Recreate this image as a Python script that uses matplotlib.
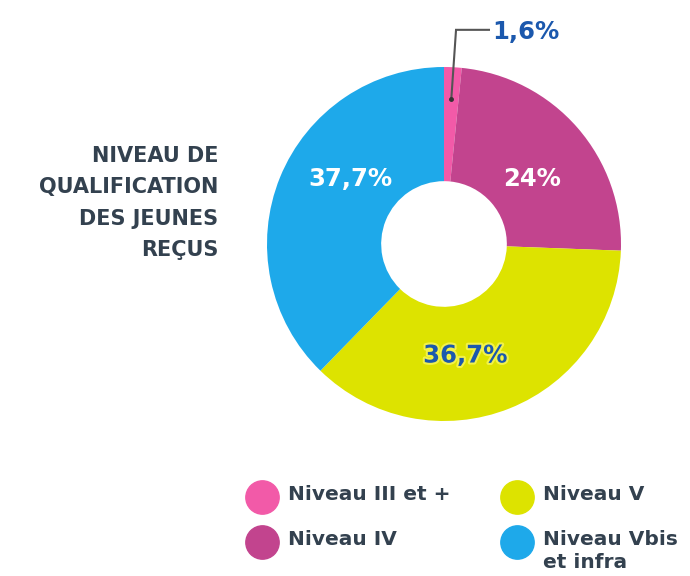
import numpy as np
import matplotlib.pyplot as plt
import matplotlib.patheffects as pe

# data
labels = ['Niveau III et +', 'Niveau IV', 'Niveau V', 'Niveau Vbis\net infra']
values = [1.6, 24, 36.7, 37.7]
pct_text = ['1,6%', '24%', '36,7%', '37,7%']
colors = ['#f25aa8', '#c2448e', '#dde300', '#1ea9ea']
title_lines = 'NIVEAU DE\nQUALIFICATION\nDES JEUNES\nREÇUS'

plt.rcParams['font.family'] = ['DejaVu Sans']
dark = '#33414f'
blue_txt = '#1b58ad'

fig = plt.figure(figsize=(6.9, 5.76), dpi=100)
fig.patch.set_facecolor('white')

# donut axes: centre (444,244) px, radius 177 px
ax = fig.add_axes([267 / 690, 1 - 421 / 576, 354 / 690, 354 / 576])
wedges, _ = ax.pie(values, colors=colors, startangle=90, counterclock=False,
                   radius=1, wedgeprops=dict(width=0.645, linewidth=0))
ax.set_xlim(-1, 1)
ax.set_ylim(-1, 1)
ax.set_aspect('equal')
ax.axis('off')

# percentage labels inside the ring
ax.text(-0.53, 0.37, pct_text[3], color='white', fontsize=17.5, fontweight='bold',
        ha='center', va='center')
ax.text(0.50, 0.37, pct_text[1], color='white', fontsize=17.5, fontweight='bold',
        ha='center', va='center')
ax.text(0.12, -0.63, pct_text[2], color=blue_txt, fontsize=17.5, fontweight='bold',
        ha='center', va='center',
        path_effects=[pe.withStroke(linewidth=3, foreground='#f2f24a')])

# leader line for the small slice
w = wedges[0]
mid = np.deg2rad((w.theta1 + w.theta2) / 2)
x0, y0 = 0.82 * np.cos(mid), 0.82 * np.sin(mid)
ax.plot([x0, 0.068, 0.254], [y0, 1.21, 1.21], color='#555555', lw=1.5,
        clip_on=False, solid_joinstyle='miter')
ax.plot([x0], [y0], 'o', color='#333333', ms=2.5, clip_on=False)
ax.text(0.275, 1.20, pct_text[0], color=blue_txt, fontsize=17.5, fontweight='bold',
        ha='left', va='center', clip_on=False)

# title on the left
fig.text(218 / 690, 1 - 203 / 576, title_lines, ha='right', va='center',
         fontsize=15, fontweight='bold', color=dark, linespacing=1.72)

# legend drawn manually
lx = [262, 517]
ly = [497, 542]
for i, (lab, col) in enumerate(zip(labels, colors)):
    cx = lx[i // 2]
    cy = ly[i % 2]
    fig.lines.append(plt.Line2D([cx / 690], [1 - cy / 576], marker='o', ms=24,
                                color=col, transform=fig.transFigure, lw=0))
    fig.text((cx + 26) / 690, 1 - (cy - 12) / 576, lab, ha='left', va='top',
             fontsize=14.5, fontweight='bold', color=dark, linespacing=1.25)

fig.savefig('out.png', dpi=100, facecolor='white')
